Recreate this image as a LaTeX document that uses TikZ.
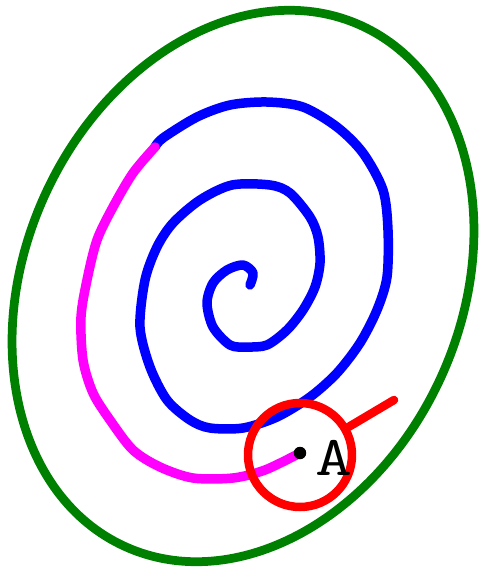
\documentclass[tikz,border=0pt]{standalone}
\usetikzlibrary{positioning}
\definecolor{tailpink}{RGB}{255,0,255}
\definecolor{rimgreen}{RGB}{0,128,0}

\begin{document}
\begin{tikzpicture}[
    x=0.02cm, y=-0.02cm,
    outline/.style={draw=rimgreen, line width=0.175cm},
    spiral/.style={draw=blue, line width=0.19cm, line cap=round, line join=round},
    tail/.style={spiral, draw=tailpink},
    lens/.style={draw=red, line width=0.17cm, circle, minimum size=2.08cm, inner sep=0pt},
    handle/.style={draw=red, line width=0.17cm, line cap=round},
    dot/.style={circle, fill=black, minimum size=0.25cm, inner sep=0pt},
    plabel/.style={font=\ttfamily\fontsize{32}{32}\selectfont, inner sep=0pt},
  ]
  \useasboundingbox (0,0) rectangle (486,569);
  % outer tilted ellipse
  \draw[outline, rotate around={-24.3:(243,286)}] (243,286) ellipse [x radius=218, y radius=286];
  % blue part of the spiral, from the inside out
  \draw[spiral] plot[smooth] coordinates {(250,285) (253,273) (243,265) (227,270) (213,283) (207,303) (213,327) (230,345) (247,347) (267,345) (287,330) (303,310) (315,287) (320,263) (318,237) (310,217) (290,193) (270,185) (232,185) (200,200) (173,223) (157,247) (145,280) (140,327) (150,367) (167,400) (190,420) (210,428) (243,428) (277,417) (310,397) (337,373) (360,343) (377,310) (387,277) (388,230) (383,190) (363,153) (337,127) (303,107) (267,102) (230,105) (197,117) (163,138) (155,147)};
  % magenta tail ending at A
  \draw[tail] plot[smooth] coordinates {(155,147) (133,173) (113,207) (97,240) (87,280) (81,317) (83,360) (93,393) (110,420) (133,450) (160,467) (193,478) (233,478) (265,470) (300,453)};
  \node[lens] (lens) at (300,455) {};
  \coordinate (grip) at (394,400);
  \draw[handle] (lens.30) -- (grip);
  \node[dot] (pointA) at (300,453) {};
  \node[plabel] (labelA) at (334,458) {\scalebox{1.28}[1]{A}};
\end{tikzpicture}
\end{document}
